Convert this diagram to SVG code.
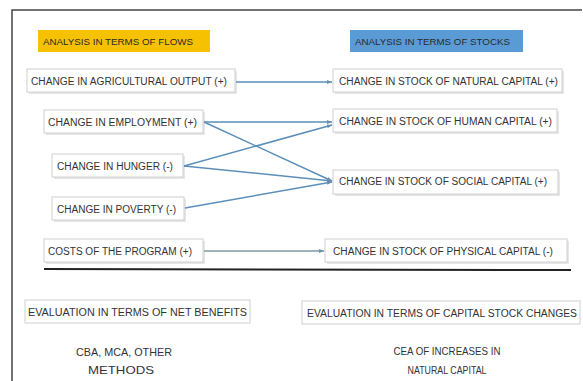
<svg xmlns="http://www.w3.org/2000/svg" width="583" height="381" viewBox="0 0 583 381">
<style>
text{font-family:"Liberation Sans","DejaVu Sans",sans-serif;font-size:10px;fill:#333;dominant-baseline:central}
.hdr{font-size:9px;fill:#2a2a2a}
.box{fill:#fff;stroke:#cfcfcf;stroke-width:1}
.shadow{fill:#e6e6e6}
.c{fill:none;stroke:#5b8fb9;stroke-width:1.5}
.g{stroke:#7f9aa6}
.m{text-anchor:middle;font-size:11px}
</style>
<defs>
<marker id="ah" viewBox="0 0 10 10" refX="10" refY="5" markerWidth="5" markerHeight="5" orient="auto" markerUnits="userSpaceOnUse">
<path d="M0,1 L10,5 L0,9 z" fill="#6b8fa8"/>
</marker>
</defs>
<rect width="583" height="381" fill="#fff"/>
<path d="M12,381 V10 H582" fill="none" stroke="#444" stroke-width="1.5"/>

<g id="hdr-flows">
<rect x="38" y="30" width="172" height="22" fill="#f6c100"/>
<text class="hdr" x="43" y="42" textLength="150" lengthAdjust="spacingAndGlyphs">ANALYSIS IN TERMS OF FLOWS</text>
</g>
<g id="hdr-stocks">
<rect x="350" y="30" width="173" height="22" fill="#5a9bd6"/>
<text class="hdr" x="355" y="42" textLength="155" lengthAdjust="spacingAndGlyphs">ANALYSIS IN TERMS OF STOCKS</text>
</g>

<g id="n-agri">
<rect class="shadow" x="29" y="71" width="208" height="23"/>
<rect class="box" x="27" y="69" width="208" height="23"/>
<text x="31" y="81" textLength="196" lengthAdjust="spacingAndGlyphs">CHANGE IN AGRICULTURAL OUTPUT (+)</text>
</g>
<g id="n-employment">
<rect class="shadow" x="46" y="112" width="159" height="23"/>
<rect class="box" x="44" y="110" width="159" height="23"/>
<text x="48" y="122" textLength="149" lengthAdjust="spacingAndGlyphs">CHANGE IN EMPLOYMENT (+)</text>
</g>
<g id="n-hunger">
<rect class="shadow" x="54" y="156" width="131" height="23"/>
<rect class="box" x="52" y="154" width="131" height="23"/>
<text x="57" y="166" textLength="116" lengthAdjust="spacingAndGlyphs">CHANGE IN HUNGER (-)</text>
</g>
<g id="n-poverty">
<rect class="shadow" x="54" y="199" width="132" height="23"/>
<rect class="box" x="52" y="197" width="132" height="23"/>
<text x="57" y="209" textLength="119" lengthAdjust="spacingAndGlyphs">CHANGE IN POVERTY (-)</text>
</g>
<g id="n-costs">
<rect class="shadow" x="46" y="241" width="159" height="23"/>
<rect class="box" x="44" y="239" width="159" height="23"/>
<text x="48" y="251" textLength="144" lengthAdjust="spacingAndGlyphs">COSTS OF THE PROGRAM (+)</text>
</g>

<g id="n-natural">
<rect class="shadow" x="335" y="71" width="229" height="23"/>
<rect class="box" x="333" y="69" width="229" height="23"/>
<text x="339" y="81" textLength="219" lengthAdjust="spacingAndGlyphs">CHANGE IN STOCK OF NATURAL CAPITAL (+)</text>
</g>
<g id="n-human">
<rect class="shadow" x="335" y="111" width="224" height="23"/>
<rect class="box" x="333" y="109" width="224" height="23"/>
<text x="339" y="121" textLength="213" lengthAdjust="spacingAndGlyphs">CHANGE IN STOCK OF HUMAN CAPITAL (+)</text>
</g>
<g id="n-social">
<rect class="shadow" x="335" y="172" width="225" height="24"/>
<rect class="box" x="333" y="170" width="225" height="24"/>
<text x="339" y="181" textLength="208" lengthAdjust="spacingAndGlyphs">CHANGE IN STOCK OF SOCIAL CAPITAL (+)</text>
</g>
<g id="n-physical">
<rect class="shadow" x="327" y="241" width="242" height="23"/>
<rect class="box" x="325" y="239" width="242" height="23"/>
<text x="333" y="251" textLength="220" lengthAdjust="spacingAndGlyphs">CHANGE IN STOCK OF PHYSICAL CAPITAL (-)</text>
</g>

<g id="connectors">
<line class="c" x1="236" y1="82" x2="332" y2="82" marker-end="url(#ah)"/>
<line class="c" x1="204" y1="122" x2="332" y2="122" marker-end="url(#ah)"/>
<line class="c" x1="204" y1="122" x2="332" y2="181" marker-end="url(#ah)"/>
<line class="c" x1="184" y1="166" x2="332" y2="125" marker-end="url(#ah)"/>
<line class="c" x1="184" y1="166" x2="332" y2="181" marker-end="url(#ah)"/>
<line class="c" x1="185" y1="208" x2="332" y2="182" marker-end="url(#ah)"/>
<line class="c g" x1="204" y1="251" x2="324" y2="251" marker-end="url(#ah)"/>
</g>

<line x1="44" y1="269" x2="571" y2="270" stroke="#222" stroke-width="2"/>

<g id="n-eval-net">
<rect class="box" x="25" y="300" width="225" height="23"/>
<text x="28" y="312" textLength="219" lengthAdjust="spacingAndGlyphs">EVALUATION IN TERMS OF NET BENEFITS</text>
</g>
<g id="n-eval-cap">
<rect class="box" x="302" y="301" width="278" height="23"/>
<text x="307" y="313" textLength="270" lengthAdjust="spacingAndGlyphs">EVALUATION IN TERMS OF CAPITAL STOCK CHANGES</text>
</g>
<g id="t-cba">
<text class="m" x="124" y="352" textLength="96" lengthAdjust="spacingAndGlyphs">CBA, MCA, OTHER</text>
<text class="m" x="121" y="370" textLength="66" lengthAdjust="spacingAndGlyphs">METHODS</text>
</g>
<g id="t-cea">
<text class="m" x="447" y="351" textLength="107" lengthAdjust="spacingAndGlyphs">CEA OF INCREASES IN</text>
<text class="m" x="447" y="370" textLength="79" lengthAdjust="spacingAndGlyphs">NATURAL CAPITAL</text>
</g>
</svg>
